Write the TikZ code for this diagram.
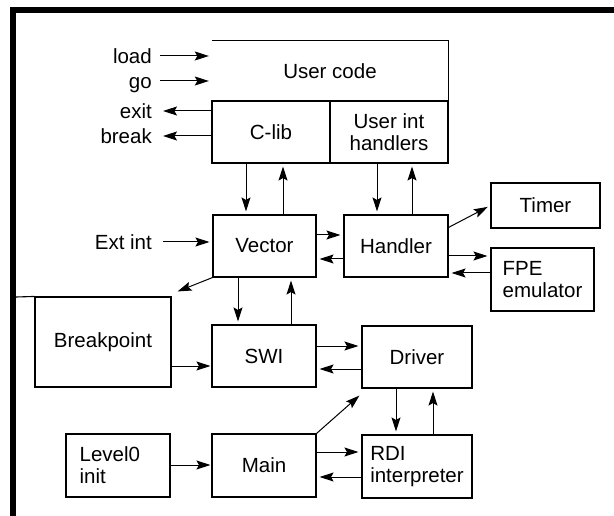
\documentclass[tikz,border=0pt]{standalone}
\usepackage{fontspec}
\setmainfont{Liberation Sans}
\usetikzlibrary{arrows.meta}
\begin{document}
\begin{tikzpicture}[x=1pt,y=-1pt,
  font=\fontsize{20.5}{22}\selectfont,
  box/.style={draw,line width=1.1pt,inner sep=0pt,align=center},
  lbl/.style={inner sep=0pt,anchor=east,text height=16pt,text depth=0pt},
  arr/.style={-{Stealth[length=14pt,width=9pt,inset=2.5pt]},line width=1pt,shorten >=3pt}]
\useasboundingbox (0,0) rectangle (614,516);

% heavy frame along top and left
\fill (10,7) rectangle (614,13);
\fill (10,7) rectangle (16,516);

% user program layer
\node[inner sep=0pt,minimum width=236pt,minimum height=60pt] (usercode) at (330,71) {User code};
\draw[line width=1.1pt] (usercode.north west) -- (usercode.north east) -- (usercode.south east);
\node[box,minimum width=118pt,minimum height=62pt] (clib) at (271,132) {C-lib};
\node[box,minimum width=118pt,minimum height=62pt] (uih) at (389,132) {User int\\handlers};

% kernel boxes
\node[box,minimum width=103pt,minimum height=62pt] (vector) at (264.5,246) {Vector};
\node[box,minimum width=104pt,minimum height=62pt] (handler) at (396,246) {Handler};
\node[box,minimum width=109pt,minimum height=45pt] (timer) at (545.5,205.5) {Timer};
\node[box,align=left,minimum width=103pt,minimum height=63pt] (fpe) at (542.5,279.5) {FPE\\emulator};
\node[box,minimum width=136pt,minimum height=90pt] (breakpoint) at (103,342) {Breakpoint};
\draw[line width=1.1pt] (16,297) -- (breakpoint.north west);
\node[box,minimum width=104pt,minimum height=62pt] (swi) at (264,356) {SWI};
\node[box,minimum width=110pt,minimum height=62pt] (driver) at (417,357) {Driver};
\node[box,minimum width=104pt,minimum height=63pt] (main) at (264,465.5) {Main};
\node[box,align=left,minimum width=110pt,minimum height=63pt] (rdi) at (417,466.5) {RDI\\interpreter};
\node[box,minimum width=104pt,minimum height=63pt] (level0) at (118,465.5) {};
\node[inner sep=0pt,anchor=west,align=left] (level0txt) at ([shift={(14,0)}]level0.west) {Level0\\init};

% external signals
\node[lbl] (load) at (152,56) {load};
\node[lbl] (go) at (152,81) {go};
\node[lbl] (exit) at (152,111) {exit};
\node[lbl] (break) at (152,136) {break};
\node[lbl] (extint) at (152,242) {Ext int};

\draw[arr] ([xshift=8pt]load.east) -- (load.east -| usercode.west);
\draw[arr] ([xshift=8pt]go.east) -- (go.east -| usercode.west);
\draw[arr,shorten >=0pt] (exit.east -| clib.west) -- ([xshift=11pt]exit.east);
\draw[arr,shorten >=0pt] (break.east -| clib.west) -- ([xshift=11pt]break.east);
\draw[arr] ([xshift=11pt]extint.east) -- (extint.east -| vector.west);

% C-lib / handlers to vector / handler
\draw[arr] (clib.south -| 246,0) -- (vector.north -| 246,0);
\draw[arr] (vector.north -| 283,0) -- (clib.south -| 283,0);
\draw[arr] (uih.south -| 377,0) -- (handler.north -| 377,0);
\draw[arr] (handler.north -| 412,0) -- (uih.south -| 412,0);

\draw[arr] (vector.east |- 0,235) -- (handler.west |- 0,235);
\draw[arr] (handler.west |- 0,259) -- (vector.east |- 0,259);
\draw[arr] ([shift={(0,13)}]handler.north east) -- (timer.west);
\draw[arr] (handler.east |- 0,256) -- (fpe.west |- 0,256);
\draw[arr] (fpe.west |- 0,273) -- (handler.east |- 0,273);

% vector to breakpoint and SWI
\draw[arr,shorten >=0pt] (vector.south west) -- ([shift={(6,-5)}]breakpoint.north east);
\draw[arr] (vector.south -| 238,0) -- (swi.north -| 238,0);
\draw[arr] (swi.north -| 291,0) -- (vector.south -| 291,0);
\draw[arr,shorten >=1pt] (breakpoint.east |- 0,366) -- (swi.west |- 0,366);

% SWI, driver, RDI
\draw[arr] (swi.east |- 0,346) -- (driver.west |- 0,346);
\draw[arr] (driver.west |- 0,369) -- (swi.east |- 0,369);
\draw[arr] (driver.south -| 396,0) -- (rdi.north -| 396,0);
\draw[arr] (rdi.north -| 433,0) -- (driver.south -| 433,0);

% start-up path
\draw[arr,shorten >=1pt] (level0.east |- 0,465) -- (main.west |- 0,465);
\draw[arr] (main.east |- 0,452) -- (rdi.west |- 0,452);
\draw[arr] (rdi.west |- 0,477) -- (main.east |- 0,477);
\draw[arr,shorten >=0pt] (main.north east) -- ([shift={(-2,7)}]driver.south west);
\end{tikzpicture}
\end{document}
